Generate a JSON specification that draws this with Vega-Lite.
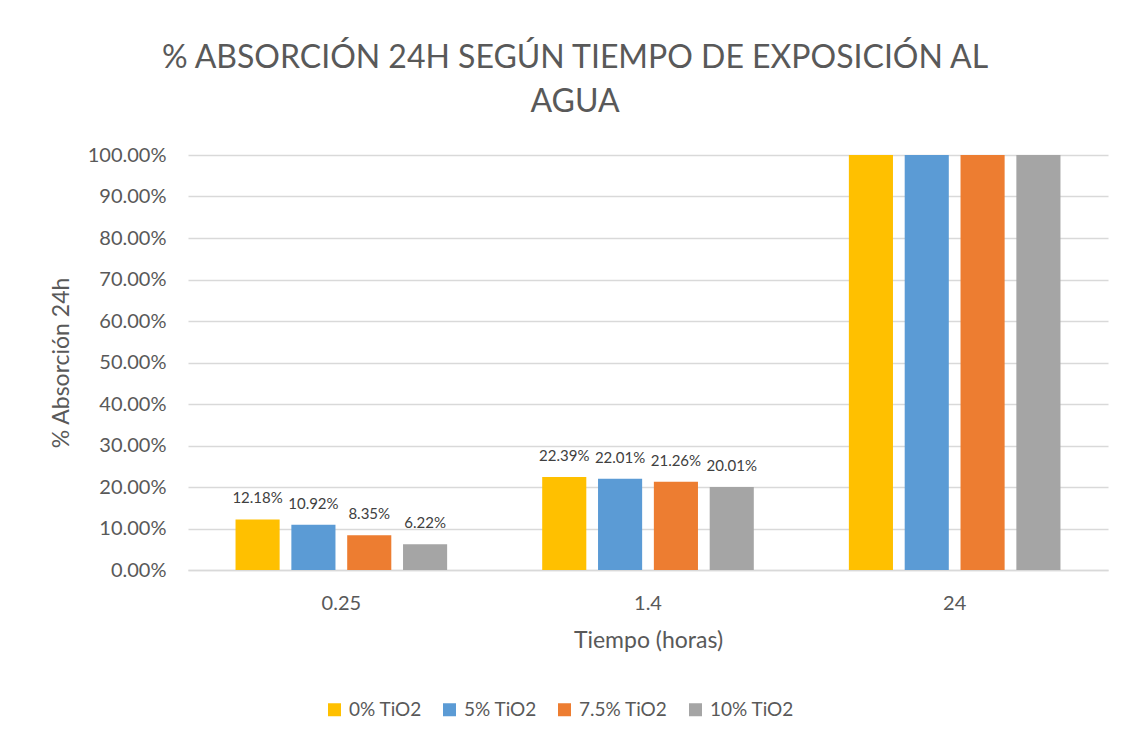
{
  "$schema": "https://vega.github.io/schema/vega-lite/v6.json",
  "width": 920,
  "height": 415,
  "autosize": {"type": "none"},
  "padding": {"left": 188, "top": 155, "right": 20, "bottom": 172},
  "background": "white",
  "title": {
    "text": ["% ABSORCIÓN 24H SEGÚN TIEMPO DE EXPOSICIÓN AL", "AGUA"],
    "fontSize": 32,
    "font": "Lato",
    "fontWeight": "normal",
    "color": "#595959",
    "lineHeight": 44,
    "anchor": "middle",
    "dx": -73,
    "offset": 8
  },
  "data": {
    "values": [
      {"tiempo": "0.25", "serie": "0% TiO2", "valor": 0.1218, "label": "12.18%"},
      {"tiempo": "0.25", "serie": "5% TiO2", "valor": 0.1092, "label": "10.92%"},
      {"tiempo": "0.25", "serie": "7.5% TiO2", "valor": 0.0835, "label": "8.35%"},
      {"tiempo": "0.25", "serie": "10% TiO2", "valor": 0.0622, "label": "6.22%"},
      {"tiempo": "1.4", "serie": "0% TiO2", "valor": 0.2239, "label": "22.39%"},
      {"tiempo": "1.4", "serie": "5% TiO2", "valor": 0.2201, "label": "22.01%"},
      {"tiempo": "1.4", "serie": "7.5% TiO2", "valor": 0.2126, "label": "21.26%"},
      {"tiempo": "1.4", "serie": "10% TiO2", "valor": 0.2001, "label": "20.01%"},
      {"tiempo": "24", "serie": "0% TiO2", "valor": 1.0, "label": ""},
      {"tiempo": "24", "serie": "5% TiO2", "valor": 1.0, "label": ""},
      {"tiempo": "24", "serie": "7.5% TiO2", "valor": 1.0, "label": ""},
      {"tiempo": "24", "serie": "10% TiO2", "valor": 1.0, "label": ""}
    ]
  },
  "encoding": {
    "x": {
      "field": "tiempo",
      "type": "nominal",
      "sort": ["0.25", "1.4", "24"],
      "scale": {"paddingInner": 0.31, "paddingOuter": 0.155},
      "axis": {
        "title": "Tiempo (horas)",
        "labelAngle": 0,
        "labelFontSize": 20,
        "labelFont": "Lato",
        "labelColor": "#595959",
        "labelPadding": 23,
        "ticks": false,
        "domainColor": "#d9d9d9",
        "domainWidth": 1.5,
        "titleFontSize": 23,
        "titleFont": "Lato",
        "titleFontWeight": "normal",
        "titleColor": "#595959",
        "titlePadding": 16
      }
    },
    "xOffset": {
      "field": "serie",
      "type": "nominal",
      "sort": ["0% TiO2", "5% TiO2", "7.5% TiO2", "10% TiO2"],
      "scale": {"paddingInner": 0.21, "paddingOuter": 0}
    },
    "y": {
      "field": "valor",
      "type": "quantitative",
      "scale": {"domain": [0, 1], "nice": false},
      "axis": {
        "title": "% Absorción 24h",
        "values": [0, 0.1, 0.2, 0.3, 0.4, 0.5, 0.6, 0.7, 0.8, 0.9, 1.0],
        "format": ".2%",
        "labelFontSize": 20,
        "labelFont": "Lato",
        "labelColor": "#595959",
        "labelPadding": 22,
        "ticks": false,
        "domain": false,
        "gridColor": "#d9d9d9",
        "gridWidth": 1.5,
        "titleFontSize": 23,
        "titleFont": "Lato",
        "titleFontWeight": "normal",
        "titleColor": "#595959",
        "titlePadding": 14
      }
    }
  },
  "layer": [
    {
      "mark": {"type": "bar"},
      "encoding": {
        "color": {
          "field": "serie",
          "type": "nominal",
          "sort": ["0% TiO2", "5% TiO2", "7.5% TiO2", "10% TiO2"],
          "scale": {
            "domain": ["0% TiO2", "5% TiO2", "7.5% TiO2", "10% TiO2"],
            "range": ["#FFC000", "#5B9BD5", "#ED7D31", "#A5A5A5"]
          },
          "legend": {
            "title": null,
            "orient": "none",
            "direction": "horizontal",
            "legendX": 137,
            "legendY": 545,
            "symbolType": "square",
            "symbolSize": 169,
            "symbolStrokeWidth": 0,
            "labelFontSize": 19,
            "labelFont": "Lato",
            "labelColor": "#595959",
            "labelOffset": 5,
            "columnPadding": 18
          }
        }
      }
    },
    {
      "mark": {"type": "text", "baseline": "bottom", "dy": -13, "fontSize": 15, "font": "Lato", "color": "#404040"},
      "encoding": {
        "text": {"field": "label", "type": "nominal"}
      }
    }
  ],
  "config": {
    "view": {"stroke": null}
  }
}
